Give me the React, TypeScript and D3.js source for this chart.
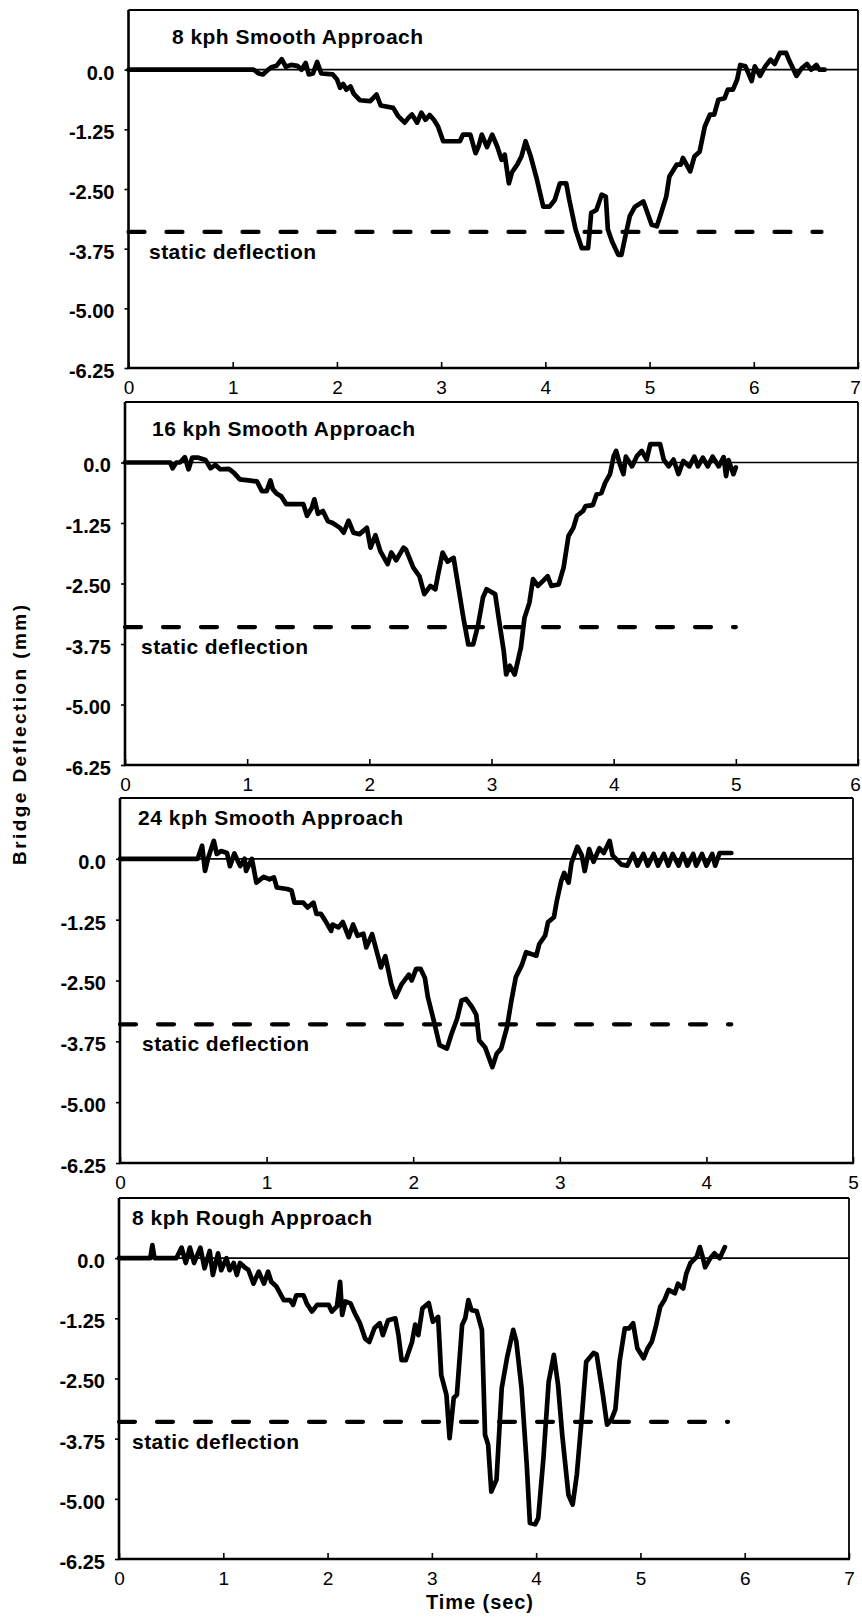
import { useEffect, useRef } from 'react';
import * as d3 from 'd3';

// tick values / labels shared by the four panels
const yTickValues = [0, -1.25, -2.5, -3.75, -5, -6.25];
const yTickLabels = ['0.0', '-1.25', '-2.50', '-3.75', '-5.00', '-6.25'];
const panelTitles = ['8 kph Smooth Approach', '16 kph Smooth Approach', '24 kph Smooth Approach', '8 kph Rough Approach'];
const timeMax = [7, 6, 5, 7];
const staticDeflection = -3.4;
const staticEnd = [6.65, 5.0, 4.17, 5.84];

// [time (sec), deflection (mm)]
const smooth8 = [
  [0, 0], [1.2, 0], [1.25, -0.08], [1.29, -0.1], [1.33, -0.02], [1.37, 0.05], [1.42, 0.08], [1.47, 0.22], [1.51, 0.06],
  [1.56, 0.1], [1.62, 0.08], [1.66, 0], [1.7, 0.14], [1.73, -0.1], [1.77, -0.08], [1.81, 0.16], [1.85, -0.08], [1.96, -0.1],
  [2.0, -0.2], [2.03, -0.38], [2.06, -0.3], [2.09, -0.42], [2.13, -0.35], [2.16, -0.5], [2.22, -0.64], [2.32, -0.66],
  [2.38, -0.52], [2.42, -0.75], [2.54, -0.8], [2.59, -0.98], [2.65, -1.11], [2.69, -1.0], [2.72, -0.94], [2.77, -1.11],
  [2.81, -0.9], [2.85, -1.05], [2.89, -0.95], [2.93, -1.05], [2.97, -1.19], [3.02, -1.5], [3.18, -1.5], [3.21, -1.36],
  [3.28, -1.36], [3.33, -1.75], [3.36, -1.6], [3.39, -1.36], [3.44, -1.62], [3.49, -1.36], [3.54, -1.62], [3.58, -1.89],
  [3.61, -1.78], [3.65, -2.38], [3.68, -2.15], [3.73, -1.99], [3.77, -1.82], [3.81, -1.5], [3.86, -1.82], [3.92, -2.31],
  [3.98, -2.87], [4.04, -2.87], [4.09, -2.73], [4.14, -2.38], [4.2, -2.38], [4.23, -2.73], [4.29, -3.35], [4.35, -3.74],
  [4.41, -3.74], [4.44, -3.0], [4.49, -2.94], [4.54, -2.62], [4.58, -2.66], [4.6, -3.35], [4.64, -3.6], [4.7, -3.88],
  [4.73, -3.88], [4.76, -3.57], [4.81, -3.07], [4.86, -2.87], [4.94, -2.76], [4.97, -2.94], [5.02, -3.25], [5.07, -3.28],
  [5.12, -2.94], [5.16, -2.66], [5.19, -2.24], [5.26, -1.99], [5.3, -1.99], [5.32, -1.85], [5.39, -2.13], [5.43, -1.82],
  [5.48, -1.72], [5.53, -1.19], [5.58, -0.94], [5.62, -0.94], [5.66, -0.63], [5.72, -0.6], [5.75, -0.42], [5.8, -0.42],
  [5.84, -0.21], [5.87, 0.1], [5.92, 0.07], [5.98, -0.24], [6.01, 0.07], [6.06, -0.13], [6.11, 0.07], [6.16, 0.21],
  [6.2, 0.12], [6.25, 0.35], [6.31, 0.35], [6.34, 0.19], [6.41, -0.13], [6.46, 0.03], [6.51, 0.12], [6.55, 0],
  [6.6, 0.1], [6.63, 0], [6.68, 0],
];

const smooth16 = [
  [0, 0], [0.37, 0], [0.39, -0.12], [0.42, 0], [0.45, 0], [0.49, 0.11], [0.52, -0.14], [0.55, 0.1], [0.6, 0.1],
  [0.66, 0.05], [0.7, -0.12], [0.74, -0.05], [0.78, -0.14], [0.85, -0.13], [0.89, -0.21], [0.94, -0.35], [1.01, -0.37],
  [1.08, -0.39], [1.12, -0.59], [1.16, -0.59], [1.19, -0.37], [1.21, -0.55], [1.24, -0.64], [1.28, -0.7], [1.32, -0.86],
  [1.46, -0.86], [1.49, -1.1], [1.53, -0.93], [1.55, -0.76], [1.58, -1.06], [1.62, -1.0], [1.66, -1.21], [1.7, -1.25],
  [1.76, -1.35], [1.79, -1.45], [1.83, -1.2], [1.87, -1.45], [1.92, -1.48], [1.98, -1.35], [2.01, -1.76], [2.05, -1.5],
  [2.09, -1.83], [2.15, -2.1], [2.18, -1.86], [2.22, -2.02], [2.28, -1.76], [2.3, -1.8], [2.36, -2.17], [2.41, -2.35],
  [2.45, -2.72], [2.5, -2.55], [2.54, -2.62], [2.56, -2.35], [2.6, -1.86], [2.64, -2.05], [2.69, -1.97], [2.73, -2.59],
  [2.77, -3.21], [2.81, -3.76], [2.85, -3.76], [2.89, -3.36], [2.93, -2.79], [2.96, -2.62], [3.03, -2.72], [3.06, -3.23],
  [3.1, -3.89], [3.12, -4.38], [3.15, -4.2], [3.19, -4.38], [3.24, -3.83], [3.27, -3.21], [3.31, -2.9], [3.34, -2.41],
  [3.38, -2.55], [3.42, -2.45], [3.46, -2.35], [3.49, -2.55], [3.55, -2.52], [3.59, -2.17], [3.63, -1.52], [3.67, -1.35],
  [3.7, -1.1], [3.75, -1.0], [3.77, -0.9], [3.83, -0.88], [3.86, -0.66], [3.9, -0.63], [3.93, -0.42], [3.97, -0.24],
  [4.0, 0.13], [4.02, 0.24], [4.05, -0.03], [4.08, -0.24], [4.1, 0.12], [4.15, -0.08], [4.19, 0.13], [4.23, 0.24],
  [4.27, 0.06], [4.3, 0.38], [4.38, 0.38], [4.41, 0.06], [4.45, -0.08], [4.49, 0.06], [4.53, -0.24], [4.57, 0.03],
  [4.62, -0.08], [4.66, 0.12], [4.69, -0.08], [4.73, 0.1], [4.77, -0.08], [4.81, 0.12], [4.86, -0.08], [4.9, 0.11],
  [4.92, -0.28], [4.94, 0.05], [4.98, -0.24], [5.0, -0.1],
];

const smooth24 = [
  [0, 0], [0.53, 0], [0.56, 0.27], [0.58, -0.25], [0.6, 0], [0.64, 0.37], [0.66, 0.1], [0.69, 0.16], [0.73, 0.12],
  [0.75, -0.15], [0.78, 0.11], [0.82, -0.15], [0.85, 0], [0.86, -0.25], [0.9, 0], [0.93, -0.49], [0.98, -0.37],
  [1.02, -0.42], [1.05, -0.38], [1.07, -0.59], [1.14, -0.62], [1.17, -0.65], [1.19, -0.9], [1.25, -0.9], [1.28, -1.0],
  [1.32, -0.9], [1.34, -1.13], [1.37, -1.13], [1.4, -1.27], [1.44, -1.48], [1.45, -1.35], [1.49, -1.41], [1.52, -1.3],
  [1.56, -1.61], [1.59, -1.35], [1.62, -1.58], [1.66, -1.54], [1.68, -1.82], [1.72, -1.55], [1.75, -1.89], [1.78, -2.23],
  [1.81, -2.0], [1.85, -2.57], [1.88, -2.84], [1.92, -2.58], [1.97, -2.38], [1.99, -2.5], [2.02, -2.26], [2.05, -2.26],
  [2.08, -2.45], [2.1, -2.84], [2.14, -3.32], [2.18, -3.83], [2.23, -3.9], [2.26, -3.61], [2.3, -3.28], [2.33, -2.91],
  [2.36, -2.88], [2.4, -3.04], [2.43, -3.2], [2.45, -3.73], [2.49, -3.87], [2.54, -4.28], [2.57, -4.0], [2.6, -3.9],
  [2.64, -3.46], [2.67, -2.91], [2.7, -2.43], [2.74, -2.19], [2.77, -1.92], [2.84, -1.99], [2.86, -1.75], [2.9, -1.58],
  [2.92, -1.3], [2.96, -1.2], [2.98, -0.86], [3.01, -0.45], [3.03, -0.29], [3.06, -0.49], [3.08, -0.08], [3.12, 0.25],
  [3.15, 0.07], [3.17, -0.25], [3.2, 0.2], [3.23, -0.06], [3.27, 0.22], [3.3, 0.12], [3.34, 0.37], [3.36, 0.07],
  [3.42, -0.12], [3.46, -0.14], [3.5, 0.1], [3.53, -0.14], [3.57, 0.1], [3.6, -0.14], [3.64, 0.1], [3.67, -0.14],
  [3.71, 0.1], [3.74, -0.14], [3.77, 0.1], [3.81, -0.14], [3.84, 0.1], [3.87, -0.14], [3.91, 0.1], [3.93, -0.14],
  [3.97, 0.1], [4.0, -0.14], [4.04, 0.1], [4.06, -0.14], [4.09, 0.12], [4.17, 0.12],
];

const rough8 = [
  [0, 0], [0.3, 0], [0.32, 0.27], [0.34, 0], [0.55, 0], [0.6, 0.22], [0.64, -0.1], [0.68, 0.22], [0.72, -0.1],
  [0.78, 0.22], [0.82, -0.21], [0.87, 0.15], [0.9, -0.35], [0.95, 0.1], [0.98, -0.25], [1.03, 0], [1.06, -0.25],
  [1.1, -0.1], [1.13, -0.35], [1.16, -0.1], [1.21, -0.2], [1.24, -0.24], [1.29, -0.53], [1.34, -0.28], [1.39, -0.53],
  [1.43, -0.28], [1.46, -0.49], [1.51, -0.59], [1.58, -0.87], [1.64, -0.87], [1.67, -0.97], [1.7, -0.77], [1.77, -0.77],
  [1.8, -0.94], [1.85, -1.11], [1.9, -0.97], [2.01, -0.97], [2.04, -1.11], [2.09, -1.0], [2.12, -0.49], [2.14, -1.18],
  [2.17, -0.9], [2.22, -0.94], [2.26, -1.14], [2.31, -1.35], [2.36, -1.67], [2.4, -1.74], [2.45, -1.45], [2.5, -1.35],
  [2.53, -1.6], [2.58, -1.29], [2.65, -1.25], [2.68, -1.6], [2.71, -2.12], [2.75, -2.12], [2.81, -1.74], [2.84, -1.38],
  [2.87, -1.6], [2.91, -1.04], [2.97, -0.93], [3.01, -1.32], [3.06, -1.22], [3.09, -2.43], [3.14, -2.84], [3.17, -3.74],
  [3.21, -2.9], [3.24, -2.84], [3.29, -1.39], [3.32, -1.25], [3.35, -0.87], [3.38, -1.08], [3.43, -1.1], [3.48, -1.49],
  [3.51, -3.67], [3.54, -3.88], [3.57, -4.85], [3.62, -4.6], [3.67, -2.7], [3.72, -2.08], [3.78, -1.49], [3.81, -1.73],
  [3.86, -2.7], [3.91, -4.29], [3.94, -5.5], [3.99, -5.53], [4.02, -5.4], [4.07, -4.15], [4.12, -2.57], [4.17, -2.01],
  [4.21, -2.63], [4.25, -3.67], [4.31, -4.92], [4.35, -5.12], [4.39, -4.5], [4.44, -3.25], [4.48, -2.15], [4.55, -1.97],
  [4.58, -2.0], [4.64, -2.84], [4.68, -3.46], [4.72, -3.36], [4.76, -3.14], [4.8, -2.15], [4.85, -1.46], [4.89, -1.46],
  [4.93, -1.35], [4.97, -1.87], [5.03, -2.08], [5.07, -1.87], [5.11, -1.73], [5.15, -1.4], [5.19, -1.01], [5.23, -0.87],
  [5.27, -0.66], [5.33, -0.73], [5.36, -0.53], [5.41, -0.63], [5.44, -0.32], [5.48, -0.1], [5.54, 0.03], [5.57, 0.23],
  [5.6, 0], [5.62, -0.19], [5.67, 0], [5.71, 0.1], [5.76, 0], [5.81, 0.23],
];

const traces = [smooth8, smooth16, smooth24, rough8];

// panel frames in page pixels, plus text placement inside each frame
const frames = [
  { left: 128.5, right: 858, top: 10, bottom: 368, titleX: 43.5, titleLen: 251, labelX: 20.5 },
  { left: 125, right: 858, top: 402, bottom: 765, titleX: 27, titleLen: 263, labelX: 16 },
  { left: 120, right: 853, top: 798, bottom: 1163, titleX: 18, titleLen: 265, labelX: 22 },
  { left: 119, right: 849, top: 1198, bottom: 1559, titleX: 13, titleLen: 240, labelX: 13 },
];

const FONT = '"Liberation Sans", Arial, Helvetica, sans-serif';

export default function App() {
  const svgRef = useRef<SVGSVGElement>(null);

  useEffect(() => {
    const svg = d3.select(svgRef.current);
    svg.selectAll('*').remove();

    frames.forEach((f, i) => {
      const x = d3.scaleLinear().domain([0, timeMax[i]]).range([f.left, f.right]);
      const y = d3.scaleLinear().domain([-6.25, 1.25]).range([f.bottom, f.top]);
      const g = svg.append('g');

      // zero reference line
      g.append('line')
        .attr('x1', f.left).attr('x2', f.right)
        .attr('y1', y(0)).attr('y2', y(0))
        .attr('stroke', '#000').attr('stroke-width', 1.6);

      // static deflection, dashed
      g.append('line')
        .attr('x1', x(0)).attr('x2', x(staticEnd[i]))
        .attr('y1', y(staticDeflection)).attr('y2', y(staticDeflection))
        .attr('stroke', '#000').attr('stroke-width', 4.2)
        .attr('stroke-linecap', 'round')
        .attr('stroke-dasharray', '16 22');

      const line = d3.line<number[]>().x(d => x(d[0])).y(d => y(d[1]));
      g.append('path')
        .datum(traces[i])
        .attr('d', line)
        .attr('fill', 'none')
        .attr('stroke', '#000')
        .attr('stroke-width', 4.7)
        .attr('stroke-linejoin', 'round')
        .attr('stroke-linecap', 'round');

      // frame
      g.append('line').attr('x1', f.left).attr('x2', f.right).attr('y1', f.top).attr('y2', f.top)
        .attr('stroke', '#000').attr('stroke-width', 1.8);
      g.append('line').attr('x1', f.right).attr('x2', f.right).attr('y1', f.top).attr('y2', f.bottom)
        .attr('stroke', '#000').attr('stroke-width', 1.8);
      g.append('line').attr('x1', f.left).attr('x2', f.left).attr('y1', f.top).attr('y2', f.bottom + 1)
        .attr('stroke', '#000').attr('stroke-width', 2.6);
      g.append('line').attr('x1', f.left - 1).attr('x2', f.right + 1).attr('y1', f.bottom).attr('y2', f.bottom)
        .attr('stroke', '#000').attr('stroke-width', 2.6);

      // y axis, ticks outward
      const yAxis = g.append('g')
        .attr('transform', `translate(${f.left},0)`)
        .call(d3.axisLeft(y).tickValues(yTickValues)
          .tickFormat((_d, k) => yTickLabels[k])
          .tickSize(4).tickPadding(10));
      yAxis.select('.domain').remove();
      yAxis.attr('font-family', FONT).attr('font-size', 20).attr('font-weight', 'bold');
      yAxis.selectAll('line').attr('stroke-width', 1.6);
      yAxis.selectAll('text').attr('y', 3).attr('fill', '#000');

      // x axis, ticks inward
      const xAxis = g.append('g')
        .attr('transform', `translate(0,${f.bottom})`)
        .call(d3.axisBottom(x).tickValues(d3.range(0, timeMax[i] + 1))
          .tickFormat(d3.format('d'))
          .tickSizeInner(-6).tickSizeOuter(0).tickPadding(13));
      xAxis.select('.domain').remove();
      xAxis.attr('font-family', FONT).attr('font-size', 19).attr('font-weight', 'normal');
      xAxis.selectAll('line').attr('stroke-width', 1.6);
      // keep the last label inside the page edge
      xAxis.selectAll<SVGTextElement, number>('text')
        .attr('fill', '#000')
        .attr('x', d => (x(d) + 6 > 861 ? 861 - 6 - x(d) : 0));

      // panel title
      g.append('text')
        .attr('x', f.left + f.titleX).attr('y', f.top + (i < 2 ? 34 : 27))
        .attr('font-family', FONT).attr('font-size', 21).attr('font-weight', 'bold')
        .attr('textLength', f.titleLen).attr('lengthAdjust', 'spacing')
        .text(panelTitles[i]);

      g.append('text')
        .attr('x', f.left + f.labelX).attr('y', y(staticDeflection) + 27)
        .attr('font-family', FONT).attr('font-size', 21).attr('font-weight', 'bold')
        .attr('textLength', 167).attr('lengthAdjust', 'spacing')
        .text('static deflection');
    });

    svg.append('text')
      .attr('transform', 'translate(26,735) rotate(-90)')
      .attr('text-anchor', 'middle')
      .attr('font-family', FONT).attr('font-size', 19).attr('font-weight', 'bold')
      .attr('textLength', 260).attr('lengthAdjust', 'spacing')
      .text('Bridge Deflection (mm)');

    svg.append('text')
      .attr('x', 479.5).attr('y', 1609)
      .attr('text-anchor', 'middle')
      .attr('font-family', FONT).attr('font-size', 20).attr('font-weight', 'bold')
      .attr('textLength', 107).attr('lengthAdjust', 'spacing')
      .text('Time (sec)');
  }, []);

  return (
    <svg
      ref={svgRef}
      width={862}
      height={1620}
      style={{ position: 'absolute', left: 0, top: 0, background: '#fff' }}
    />
  );
}
